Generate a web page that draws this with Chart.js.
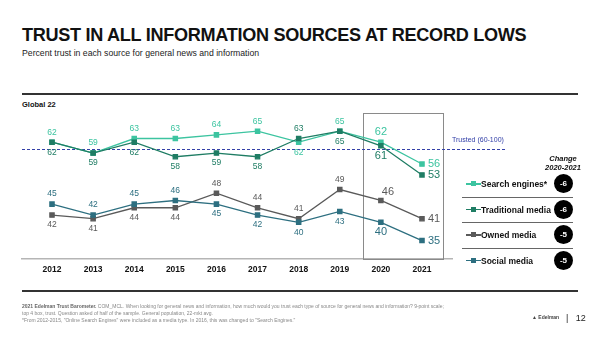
<!DOCTYPE html>
<html lang="en">
<head>
    <meta charset="UTF-8" />
    <title>Trust in all information sources</title>
    <script src="https://cdn.jsdelivr.net/npm/chart.js"></script>
    <style>
        body {
            margin: 0;
            width: 600px;
            height: 337px;
            position: relative;
            overflow: hidden;
            background: #fff;
            font-family: 'Liberation Sans', Arial, sans-serif;
            color: #111;
        }
        .title {
            position: absolute; left: 22px; top: 25px;
            font-size: 18.1px; font-weight: bold; letter-spacing: -0.3px;
        }
        .subtitle {
            position: absolute; left: 22px; top: 48px;
            font-size: 8.7px; color: #222;
        }
        .rule {
            position: absolute; left: 22px; width: 556px; height: 2px; background: #333;
        }
        .region {
            position: absolute; left: 22px; top: 100px;
            font-size: 7.5px; font-weight: bold;
        }
        #chartWrap {
            position: absolute; left: 0; top: 0; width: 600px; height: 337px;
        }
        .trusted {
            position: absolute; left: 452px; top: 136px;
            font-size: 7px; color: #3340a8;
        }
        .change {
            position: absolute; left: 533px; top: 154px; width: 60px;
            text-align: center; font-size: 7.5px; font-weight: bold; font-style: italic; line-height: 9px;
        }
        .legend {
            position: absolute; left: 462px; top: 172px; width: 111px;
        }
        .legend .row {
            position: relative; height: 24.5px;
            border-bottom: 1px solid #666;
            font-size: 8.5px; font-weight: bold;
        }
        .legend .row:last-child { border-bottom: none; }
        .legend .sw {
            position: absolute; left: 4px; top: 11px; width: 15px; height: 1.5px;
        }
        .legend .sw i {
            position: absolute; left: 5px; top: -2px; width: 5px; height: 5px;
        }
        .legend .lbl { position: absolute; left: 19px; top: 7px; }
        .legend .dot {
            position: absolute; left: 92px; top: 2px; width: 19px; height: 19px;
            border-radius: 50%; background: #000; color: #fff;
            font-size: 8px; text-align: center; line-height: 19px;
        }
        .footer {
            position: absolute; left: 22px; top: 303px; width: 500px;
            font-size: 5px; color: #888; line-height: 6.8px;
        }
        .footer b { color: #666; }
        .logo {
            position: absolute; left: 532px; top: 314px;
            font-size: 5px; color: #444; font-weight: bold;
        }
        .page {
            position: absolute; left: 566px; top: 313px; font-size: 9px; color: #222;
        }
    </style>
</head>
<body>
    <div class="title">TRUST IN ALL INFORMATION SOURCES AT RECORD LOWS</div>
    <div class="subtitle">Percent trust in each source for general news and information</div>
    <div class="rule" style="top:93px"></div>
    <div class="region">Global 22</div>

    <div id="chartWrap"><canvas id="trustChart" width="600" height="337"></canvas></div>

    <div class="trusted">Trusted (60-100)</div>
    <div class="change">Change<br>2020-2021</div>
    <div class="legend" id="legend"></div>

    <div class="rule" style="top:290px"></div>
    <div class="footer">
        <b>2021 Edelman Trust Barometer.</b> COM_MCL. When looking for general news and information, how much would you trust each type of source for general news and information? 9-point scale;<br>
        top 4 box, trust. Question asked of half of the sample. General population, 22-mkt avg.<br>
        *From 2012-2015, "Online Search Engines" were included as a media type. In 2016, this was changed to "Search Engines."
    </div>
    <div class="logo">&#9650; Edelman</div>
    <div class="page">|&nbsp;&nbsp;&nbsp;12</div>

    <script>
        // data
        const years = [2012, 2013, 2014, 2015, 2016, 2017, 2018, 2019, 2020, 2021];
        const searchEngines = [62, 59, 63, 63, 64, 65, 62, 65, 62, 56];
        const traditionalMedia = [62, 59, 62, 58, 59, 58, 63, 65, 61, 53];
        const ownedMedia = [42, 41, 44, 44, 48, 44, 41, 49, 46, 41];
        const socialMedia = [45, 42, 45, 46, 45, 42, 40, 43, 40, 35];
        const seriesNames = ['Search engines*', 'Traditional media', 'Owned media', 'Social media'];
        const changes = ['-6', '-6', '-5', '-5'];
        const trustedLevel = 60;

        const colors = ['#3cc4a0', '#1f7d64', '#5a5a5a', '#2d6f80'];
        // where each value label sits: a = above, b = below, r = right, ar = above right
        const labelPos = [
            ['a', 'a', 'a', 'a', 'a', 'a', 'b', 'a', 'a', 'r'],
            ['b', 'b', 'b', 'b', 'b', 'b', 'a', 'b', 'b', 'r'],
            ['b', 'b', 'b', 'b', 'a', 'a', 'a', 'a', 'ar', 'r'],
            ['a', 'a', 'a', 'a', 'b', 'b', 'b', 'b', 'b', 'r']
        ];

        // legend
        const legend = document.getElementById('legend');
        seriesNames.forEach((name, i) => {
            legend.innerHTML += '<div class="row"><div class="sw" style="background:' + colors[i] + '"><i style="background:' +
                colors[i] + '"></i></div><div class="lbl">' + name + '</div><div class="dot">' + changes[i] + '</div></div>';
        });

        const seriesData = [searchEngines, traditionalMedia, ownedMedia, socialMedia];

        const extrasPlugin = {
            id: 'extras',
            beforeDatasetsDraw(chart) {
                const { ctx, scales: { x, y }, chartArea } = chart;
                ctx.save();
                // highlight box around 2020-2021
                ctx.strokeStyle = '#8a8a8a';
                ctx.lineWidth = 1;
                const bx1 = x.getPixelForValue(2019.57), bx2 = x.getPixelForValue(2021.52);
                const by1 = y.getPixelForValue(70);
                ctx.strokeRect(Math.round(bx1) + 0.5, Math.round(by1) + 0.5, Math.round(bx2 - bx1), Math.round(chartArea.bottom - by1));
                // trusted threshold
                ctx.strokeStyle = '#3340a8';
                ctx.setLineDash([3, 2]);
                const ty = Math.round(y.getPixelForValue(trustedLevel)) + 0.5;
                ctx.beginPath();
                ctx.moveTo(chartArea.left, ty);
                ctx.lineTo(505, ty);
                ctx.stroke();
                ctx.restore();
            },
            afterDatasetsDraw(chart) {
                const { ctx } = chart;
                ctx.save();
                chart.data.datasets.forEach((ds, di) => {
                    const meta = chart.getDatasetMeta(di);
                    meta.data.forEach((pt, i) => {
                        const pos = labelPos[di][i];
                        const big = i >= 8;
                        ctx.font = (big ? '11px' : '8.5px') + " 'Liberation Sans', Arial, sans-serif";
                        ctx.fillStyle = colors[di];
                        ctx.textBaseline = 'middle';
                        let tx = pt.x, ty = pt.y;
                        ctx.textAlign = 'center';
                        if (pos === 'a') ty -= 10;
                        else if (pos === 'b') ty += 10;
                        else if (pos === 'ar') { ty -= 9; tx += 7; }
                        else if (pos === 'r') { ctx.textAlign = 'left'; tx += 6; }
                        ctx.fillText(String(ds.data[i].y), tx, ty);
                    });
                });
                ctx.restore();
            }
        };

        new Chart(document.getElementById('trustChart'), {
            type: 'line',
            data: {
                datasets: seriesNames.map((name, i) => ({
                    label: name,
                    data: years.map((yr, j) => ({ x: yr, y: seriesData[i][j] })),
                    borderColor: colors[i],
                    backgroundColor: colors[i],
                    borderWidth: 1.3,
                    pointStyle: 'rect',
                    pointRadius: 3,
                    tension: 0,
                    order: seriesNames.length - i
                }))
            },
            options: {
                responsive: false,
                animation: false,
                layout: { padding: { left: 22, right: 148, top: 113, bottom: 56 } },
                plugins: { legend: { display: false }, tooltip: { enabled: false } },
                scales: {
                    x: {
                        type: 'linear',
                        min: 2011.27,
                        max: 2021.73,
                        afterBuildTicks: axis => { axis.ticks = years.map(v => ({ value: v })); },
                        grid: { display: false, drawTicks: false },
                        border: { display: true, color: '#b5b5b5', width: 1.5 },
                        ticks: {
                            padding: 6,
                            color: '#111',
                            font: { family: "'Liberation Sans', Arial, sans-serif", size: 8.5, weight: 'bold' },
                            callback: v => String(v)
                        }
                    },
                    y: { display: false, min: 30, max: 70 }
                }
            },
            plugins: [extrasPlugin]
        });
    </script>
</body>
</html>
